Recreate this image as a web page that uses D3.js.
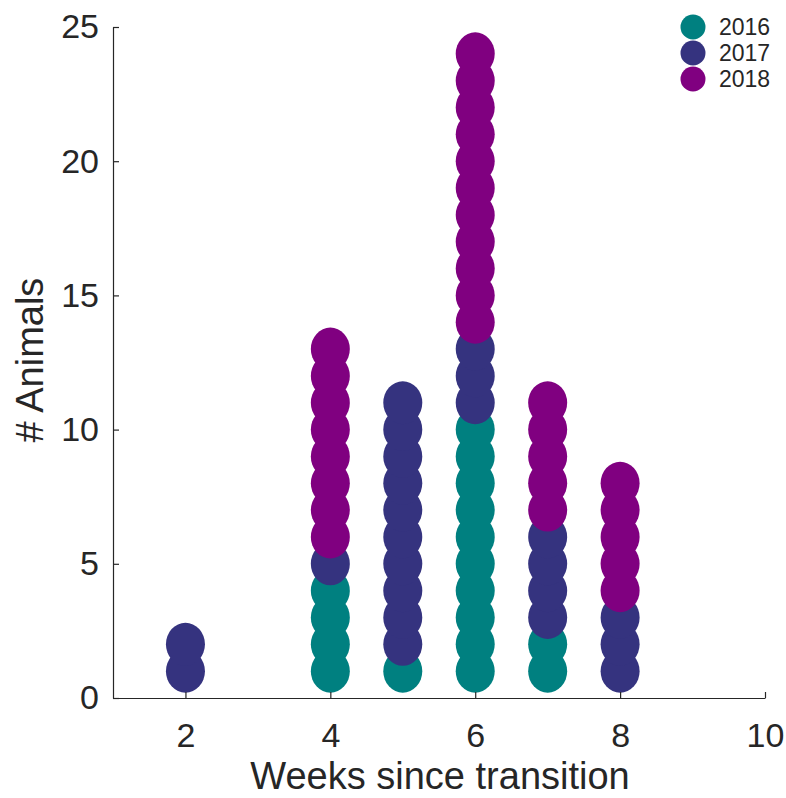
<!DOCTYPE html>
<html>
<head>
<meta charset="utf-8">
<script src="https://cdn.jsdelivr.net/npm/d3@7"></script>
<style>
  body { margin: 0; background: #fff; }
  text { font-family: "Liberation Sans", Arial, sans-serif; fill: #262626; }
</style>
</head>
<body>
<div class="chart"></div>
<script>
// animals per week, stacked by year
const weeks = [2, 4, 5, 6, 7, 8];
const years = ["2016", "2017", "2018"];
const counts2016 = [0, 4, 1, 10, 2, 0];
const counts2017 = [2, 1, 10, 3, 4, 3];
const counts2018 = [0, 8, 0, 11, 5, 5];
const xTicks = [2, 4, 6, 8, 10];
const yTicks = [0, 5, 10, 15, 20, 25];

const colors = {"2016": "#008080", "2017": "#35337f", "2018": "#800080"};
const width = 786, height = 798;
let margin = {top: 27, bottom: 100, left: 113, right: 21};

const svg = d3.select(".chart").append("svg")
  .attr("width", width)
  .attr("height", height);

let x = d3.scaleLinear().domain([1, 10]).range([margin.left, width - margin.right]);
let y = d3.scaleLinear().domain([0, 25]).range([height - margin.bottom, margin.top]);

// build one point per animal, stacking from 1 upward
const countsByYear = [counts2016, counts2017, counts2018];
let points = [];
weeks.forEach((w, i) => {
  let level = 0;
  years.forEach((yr, j) => {
    for (let k = 0; k < countsByYear[j][i]; k++) {
      level++;
      points.push({week: w, n: level, year: yr});
    }
  });
});

svg.append("g")
  .selectAll("ellipse")
  .data(points)
  .enter()
  .append("ellipse")
  .attr("cx", d => x(d.week))
  .attr("cy", d => y(d.n))
  .attr("rx", 19.5)
  .attr("ry", 21.5)
  .style("fill", d => colors[d.year]);

// axes, MATLAB style: ticks inward
const xAxis = svg.append("g")
  .attr("transform", "translate(0," + y(0) + ")")
  .call(d3.axisBottom(x).tickValues(xTicks).tickSizeInner(-6).tickSizeOuter(0).tickPadding(25));
const yAxis = svg.append("g")
  .attr("transform", "translate(" + x(1) + ",0)")
  .call(d3.axisLeft(y).tickValues(yTicks).tickSizeInner(-6).tickSizeOuter(0).tickPadding(14));

[xAxis, yAxis].forEach(a => {
  a.select(".domain").attr("stroke", "#262626").attr("stroke-width", 1.2);
  a.selectAll(".tick line").attr("stroke", "#262626").attr("stroke-width", 1.2);
  a.selectAll(".tick text").style("font-size", "34px").attr("fill", "#262626")
    .style("font-family", "'Liberation Sans', Arial, sans-serif");
});
xAxis.selectAll(".tick text").attr("dy", "0.71em");

svg.append("text")
  .attr("x", 440)
  .attr("y", 789)
  .attr("text-anchor", "middle")
  .style("font-size", "38px")
  .text("Weeks since transition");

svg.append("text")
  .attr("transform", "translate(43,360) rotate(-90)")
  .attr("text-anchor", "middle")
  .style("font-size", "38px")
  .text("# Animals");

// legend
const leg = svg.append("g").attr("transform", "translate(693,27)");
years.forEach((yr, i) => {
  leg.append("circle")
    .attr("cx", 0)
    .attr("cy", i * 26)
    .attr("r", 12.5)
    .style("fill", colors[yr]);
  leg.append("text")
    .attr("x", 26)
    .attr("y", i * 26)
    .attr("dy", "0.36em")
    .style("font-size", "23px")
    .text(yr);
});
</script>
</body>
</html>
